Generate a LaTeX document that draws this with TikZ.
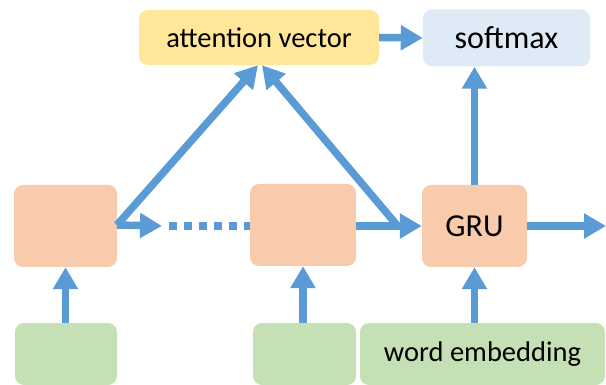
\documentclass[tikz,border=0pt]{standalone}
\usepackage{fontspec}
\setmainfont{Carlito}
\usetikzlibrary{arrows.meta}
\definecolor{boxorange}{HTML}{F8CBAD}
\definecolor{boxyellow}{HTML}{FFE699}
\definecolor{boxblue}{HTML}{DEEBF7}
\definecolor{boxgreen}{HTML}{C5E0B4}
\definecolor{arrowblue}{HTML}{5B9BD5}
\tikzset{
  cell/.style={draw=none, rounded corners=9pt, inner sep=0pt, anchor=center},
  hidden/.style={cell, fill=boxorange, minimum width=105pt, minimum height=82pt},
  embed/.style={cell, fill=boxgreen, minimum height=62pt},
  arr/.style={draw=arrowblue, line width=7.5pt,
    -{Triangle[length=22pt,width=24pt]}},
  dots/.style={draw=arrowblue, line width=7.5pt, dash pattern=on 8pt off 7pt},
  bigtxt/.style={font=\fontsize{32}{35}\selectfont},
  midtxt/.style={font=\fontsize{28.5}{31}\selectfont},
}
\begin{document}
\begin{tikzpicture}[x=1pt, y=-1pt]
\useasboundingbox (0,0) rectangle (606,385);
\clip (0,0) rectangle (606,385);

% top row
\node[cell, fill=boxyellow, minimum width=240pt, minimum height=55pt, midtxt] (att) at (259,37.5) {attention vector};
\node[cell, fill=boxblue, minimum width=167pt, minimum height=57pt, bigtxt] (soft) at (506.5,38) {softmax};

% recurrent cells
\node[hidden, minimum width=103pt] (h1) at (65.5,226) {};
\node[hidden, minimum width=106pt] (h2) at (303,225) {};
\node[hidden, bigtxt] (gru) at (474.5,226) {GRU};

% inputs
\node[embed, minimum width=102pt] (e1) at (66,354) {};
\node[embed, minimum width=103pt] (e2) at (304.5,354) {};
\node[embed, minimum width=245pt, midtxt] (we) at (482.5,354) {word embedding};

% free ends
\coordinate (p1) at (162,226);
\coordinate (q1) at (169,226);
\coordinate (out) at (606,226);
\coordinate (g1) at (396,224);
\coordinate (h1r) at (117,225);

% connectors
\draw[arr] (h1r) -- (p1);
\draw[dots] (q1) -- (h2.west |- q1);
\draw[arr] (h2.east |- gru.west) -- (gru.west);
\draw[arr] (gru.east) -- (out);
\draw[arr] (h1r) -- ([xshift=-1pt]att.south);
\draw[arr] (g1) -- ([xshift=3pt]att.south);
\draw[arr] (gru.north) -- (gru.north |- soft.south);
\draw[arr] (att.east) -- (soft.west);
\draw[arr] (h1.south |- e1.north) -- (h1.south);
\draw[arr] (h2.south |- e2.north) -- (h2.south);
\draw[arr] (gru.south |- we.north) -- (gru.south);
\end{tikzpicture}
\end{document}
